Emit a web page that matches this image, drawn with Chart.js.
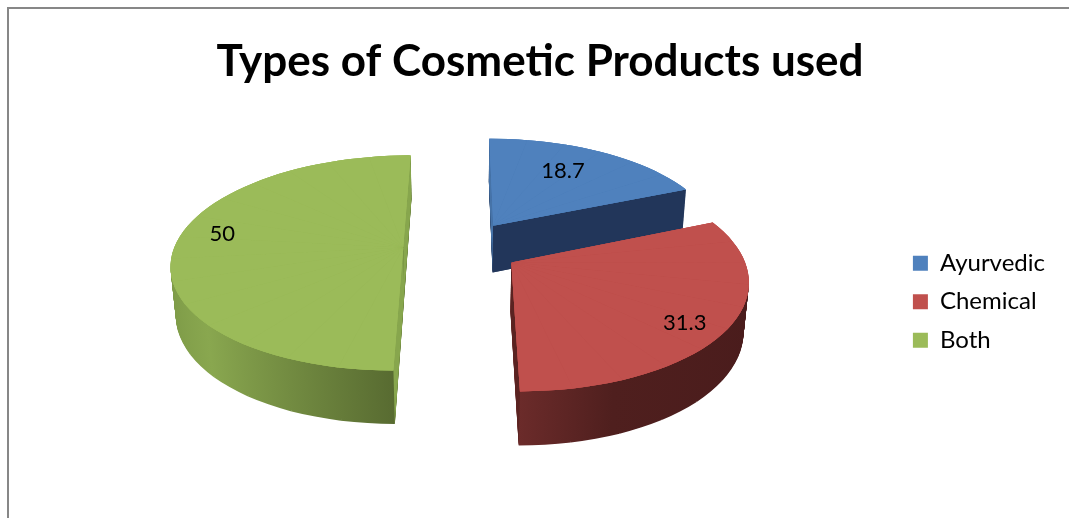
<!DOCTYPE html>
<html>
<head>
<meta charset="utf-8">
<script src="https://cdn.jsdelivr.net/npm/chart.js@4/dist/chart.umd.min.js"></script>
<style>
  html, body { margin: 0; padding: 0; background: #fff; }
  #wrap { position: relative; width: 1069px; height: 518px; }
  #frame { position: absolute; left: 7px; top: 7px; right: 0; bottom: -10px;
           border-top: 2px solid #878787; border-left: 2px solid #878787; }
  canvas { position: absolute; left: 0; top: 0; }
</style>
</head>
<body>
<div id="wrap">
  <div id="frame"></div>
  <canvas id="pieChart" width="1069" height="518"></canvas>
</div>
<script>
const categories = ['Ayurvedic', 'Chemical', 'Both'];
const shares = [18.7, 31.3, 50];

const topColors = ['#4F81BD', '#C0504D', '#9BBB59'];
// wall shading across each slice, left to right
const wallStops = [
    [[0, '#22375a'], [1, '#1f3352']],
    [[0, '#6b2b2a'], [0.35, '#4f1f1e'], [1, '#4a1c1c']],
    [[0, '#7d9a47'], [0.25, '#89a74f'], [1, '#586b31']]
];
// flat cut faces along the two straight edges of each slice
const edgeColors = [
    ['#4673a8', '#22365a'],
    ['#4f1f1e', '#5a2321'],
    ['#87a64d', '#87a64d']
];
// value label spot: fraction along the slice, fraction of the radius
const labelSpots = [[0.45, 0.7], [0.53, 0.84], [0.55, 0.82]];

// camera looking down on the pie (units of the pie radius)
const VIEW = {
    sin: 0.46,          // elevation
    cos: 0.888,
    near: 0.163,        // radius / camera distance
    thick: 0.24,        // pie thickness
    explode: 0.255,     // slice pull-out
    layers: 56,
    step: Math.PI / 15  // slices are drawn in wedges of at most 12deg
};

function project(arc, u, w, h) {
    const z = 1 - VIEW.near * (w * VIEW.cos + h * VIEW.sin);
    const b = arc.outerRadius;
    return [arc.x + b * u / z, arc.y + b * (w * VIEW.sin - h * VIEW.cos) / z];
}

function pullOut(arc) {
    const mid = (arc.startAngle + arc.endAngle) / 2;
    return [Math.cos(mid) * VIEW.explode, Math.sin(mid) * VIEW.explode];
}

function solve3(m, v) {
    const det = (a) => a[0][0] * (a[1][1] * a[2][2] - a[1][2] * a[2][1])
        - a[0][1] * (a[1][0] * a[2][2] - a[1][2] * a[2][0])
        + a[0][2] * (a[1][0] * a[2][1] - a[1][1] * a[2][0]);
    const d = det(m);
    return [0, 1, 2].map(c => det(m.map((row, r) => row.map((x, k) => k === c ? v[r] : x))) / d);
}

// affine that puts the tip and both rim ends of a wedge where the camera sees them
function wedgeTransform(arc, a0, a1, h) {
    const [ex, ey] = pullOut(arc);
    const anchors = [[0, 0], [Math.cos(a0), Math.sin(a0)], [Math.cos(a1), Math.sin(a1)]];
    const src = anchors.map(([u, w]) => [u, w, 1]);
    const dst = anchors.map(([u, w]) => project(arc, u + ex, w + ey, h));
    const px = solve3(src, dst.map(p => p[0]));
    const py = solve3(src, dst.map(p => p[1]));
    const R = arc.outerRadius;
    return [px[0] / R, py[0] / R, px[1] / R, py[1] / R,
        px[2] - (px[0] * arc.x + px[1] * arc.y) / R,
        py[2] - (py[0] * arc.x + py[1] * arc.y) / R];
}

function paint(ctx, arc, h, fill) {
    const span = arc.endAngle - arc.startAngle;
    const n = Math.max(1, Math.ceil(span / VIEW.step));
    const color = fill || arc.options.backgroundColor;
    for (let k = 0; k < n; k++) {
        const a0 = arc.startAngle + span * k / n;
        const a1 = arc.startAngle + span * (k + 1) / n;
        const wedge = Object.create(arc);
        wedge.startAngle = a0;
        wedge.endAngle = a1;
        wedge.circumference = a1 - a0;
        wedge.options = Object.assign({}, arc.options, { backgroundColor: color });
        ctx.save();
        ctx.setTransform(...wedgeTransform(arc, a0, a1, h));
        wedge.draw(ctx);
        ctx.restore();
    }
}

// the straight cut faces, when they turn towards the camera
function paintEdges(ctx, arc, i) {
    const [ex, ey] = pullOut(arc);
    const camW = VIEW.cos / VIEW.near;
    [arc.startAngle, arc.endAngle].forEach((a, side) => {
        const nAng = side === 0 ? a - Math.PI / 2 : a + Math.PI / 2;
        const mx = ex + Math.cos(a) / 2, my = ey + Math.sin(a) / 2;
        if (Math.cos(nAng) * (0 - mx) + Math.sin(nAng) * (camW - my) <= 0) return;
        const tip = [ex, ey], rim = [ex + Math.cos(a), ey + Math.sin(a)];
        const quad = [
            project(arc, tip[0], tip[1], 0), project(arc, rim[0], rim[1], 0),
            project(arc, rim[0], rim[1], -VIEW.thick), project(arc, tip[0], tip[1], -VIEW.thick)
        ];
        ctx.beginPath();
        quad.forEach(([x, y], k) => k ? ctx.lineTo(x, y) : ctx.moveTo(x, y));
        ctx.closePath();
        ctx.fillStyle = edgeColors[i][side];
        ctx.fill();
    });
}

function wallFill(ctx, arc, i) {
    let lo = arc.x, hi = arc.x;
    for (let t = 0; t <= 40; t++) {
        const a = arc.startAngle + (arc.endAngle - arc.startAngle) * t / 40;
        const x = arc.x + Math.cos(a) * arc.outerRadius;
        lo = Math.min(lo, x); hi = Math.max(hi, x);
    }
    const g = ctx.createLinearGradient(lo, 0, hi, 0);
    wallStops[i].forEach(([p, c]) => g.addColorStop(p, c));
    return g;
}

const pie3d = {
    id: 'pie3d',
    beforeDatasetDraw(chart, args) {
        const ctx = chart.ctx;
        const arcs = args.meta.data;
        // walls: stacked copies from the bottom up, cut faces, then the tops
        arcs.forEach((arc, i) => {
            const fill = wallFill(ctx, arc, i);
            for (let k = VIEW.layers; k > 0; k--) {
                paint(ctx, arc, -VIEW.thick * k / VIEW.layers, fill);
            }
            paintEdges(ctx, arc, i);
        });
        // a few passes so the wedge seams close up
        for (let pass = 0; pass < 3; pass++) {
            arcs.forEach(arc => paint(ctx, arc, 0, null));
        }
        return false;
    },
    afterDatasetsDraw(chart) {
        const ctx = chart.ctx;
        const arcs = chart.getDatasetMeta(0).data;
        const values = chart.data.datasets[0].data;
        ctx.save();
        ctx.fillStyle = '#000';
        ctx.font = '22px Lato';
        ctx.textAlign = 'center';
        ctx.textBaseline = 'middle';
        arcs.forEach((arc, i) => {
            const [ex, ey] = pullOut(arc);
            const [along, out] = labelSpots[i];
            const a = arc.startAngle + (arc.endAngle - arc.startAngle) * along;
            const [x, y] = project(arc, Math.cos(a) * out + ex, Math.sin(a) * out + ey, 0);
            ctx.fillText(String(values[i]), x, y);
        });
        ctx.restore();
    }
};

new Chart(document.getElementById('pieChart'), {
    type: 'pie',
    data: {
        labels: categories,
        datasets: [{
            data: shares,
            backgroundColor: topColors,
            borderWidth: 0,
            clip: false
        }]
    },
    options: {
        responsive: false,
        animation: false,
        devicePixelRatio: 1,
        radius: 229,
        layout: { padding: { left: 25, right: 14, top: 0, bottom: 119 } },
        plugins: {
            title: {
                display: true,
                text: 'Types of Cosmetic Products used',
                color: '#000',
                font: { family: 'Lato', size: 44, weight: 'bold' },
                padding: { top: 35, bottom: 8 }
            },
            legend: {
                position: 'right',
                title: { display: true, text: ' ', padding: { top: 190, bottom: 0 } },
                labels: {
                    color: '#000',
                    font: { family: 'Lato', size: 24 },
                    boxWidth: 15,
                    boxHeight: 15,
                    padding: 14.5
                }
            },
            tooltip: { enabled: false }
        }
    },
    plugins: [pie3d]
});
</script>
</body>
</html>
